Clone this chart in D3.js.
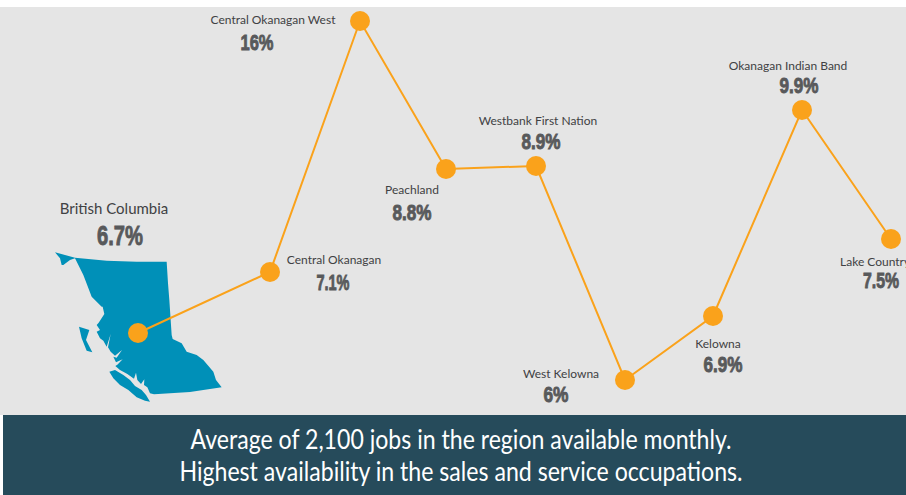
<!DOCTYPE html>
<html>
<head>
<meta charset="utf-8">
<script src="https://cdn.jsdelivr.net/npm/d3@7.9.0/dist/d3.min.js"></script>
<style>
  html, body { margin: 0; padding: 0; background: #fff; overflow: hidden; }
  svg { display: block; }
  .name { font-family: Lato, sans-serif; font-weight: 400; fill: #3f4143; }
  .value { font-family: "Liberation Sans", sans-serif; font-weight: 700; fill: #58595b; stroke: #58595b; stroke-width: 0.9px; }
  .banner { font-family: Lato, sans-serif; font-weight: 400; fill: #fff; }
</style>
</head>
<body>
<div id="chart"></div>
<script>
// --- Data ---
const regions = [
  "British Columbia",
  "Central Okanagan",
  "Central Okanagan West",
  "Peachland",
  "Westbank First Nation",
  "West Kelowna",
  "Kelowna",
  "Okanagan Indian Band",
  "Lake Country",
];
const rates = [6.7, 7.1, 16, 8.8, 8.9, 6, 6.9, 9.9, 7.5];
const rateLabels = ["6.7%", "7.1%", "16%", "8.8%", "8.9%", "6%", "6.9%", "9.9%", "7.5%"];
const bannerLines = [
  "Average of 2,100 jobs in the region available monthly.",
  "Highest availability in the sales and service occupations.",
];

// --- Constants and D3 setup ---
const W = 906;
const H = 495;
const LINE_COLOR = "#faa21b";
const MAP_COLOR = "#0090b8";

// The infographic's vertical axis is not linear in the rate, so it gets one knot per value
const rateKnots = [6, 6.7, 6.9, 7.1, 7.5, 8.8, 8.9, 9.9, 16];
const y = d3.scaleLinear()
  .domain(rateKnots)
  .range([380, 333, 316, 272, 239, 169, 166, 110, 21]);
const x = d3.scaleLinear()
  .domain(d3.range(regions.length))
  .range([138, 270, 360, 446, 536, 625, 713, 802, 891]);

// dx/dy from each point, same order as regions: [name dx, name dy, value dx, value dy, name anchor]
const labelLayout = [
  [-24, -119, -18, -88, "middle"],
  [64, -8, 63, 18, "middle"],
  [-87, 3, -103, 29, "middle"],
  [-34, 25, -34, 51, "middle"],
  [2, -41, 5, -17, "middle"],
  [-64, -2, -69, 22, "middle"],
  [5, 32, 10, 56, "middle"],
  [-14, -40, -3, -17, "middle"],
  [-51, 27, -10, 49, "start"],
];
// condensed width of each percentage, same order
const valueWidths = [46, 33, 33, 39, 39, 25, 39, 39, 36];
const bannerWidths = [541, 563];

// BC outline, in map units
const mapShapes = [
  [[45,187],[75,195],[105,203],[200,212],[290,215],[380,215],[384,280],[388,330],[392,390],[395,435],[398,447],[425,460],[440,485],[470,495],[490,510],[520,545],[528,570],[545,592],[450,606],[342,613],[330,610],
   [322,592],[312,585],[313,568],[303,582],[292,570],[288,548],[282,566],[262,552],[240,540],[226,528],[232,524],[248,508],[228,517],[220,500],[230,503],[246,480],[225,497],[212,485],[204,472],[212,432],[200,470],[190,452],[180,445],[170,425],[180,420],[170,405],[176,398],[193,372],
   [188,350],[185,350],[155,320],[130,255],[105,205],[90,210],[70,225],[65,225],[60,205]],
  [[208,545],[225,540],[250,555],[270,570],[285,588],[305,600],[318,615],[330,635],[315,632],[290,622],[265,600],[240,585],[220,565]],
  [[117,410],[148,420],[138,450],[157,487],[140,482],[125,445]],
];
const mapX = d3.scaleLinear().domain([0, 600]).range([40, 240]);
const mapY = d3.scaleLinear().domain([0, 675]).range([190, 415]);

const svg = d3.select("#chart").append("svg").attr("width", W).attr("height", H);

svg.append("rect")
  .attr("x", 0).attr("y", 7).attr("width", W).attr("height", 408)
  .attr("fill", "#e5e5e5");
svg.append("rect")
  .attr("x", 3).attr("y", 415).attr("width", W - 3).attr("height", 80)
  .attr("fill", "#264b5b");

const mapLine = d3.line().x((d) => mapX(d[0])).y((d) => mapY(d[1]));
svg.append("g")
  .selectAll("path")
  .data(mapShapes)
  .join("path")
  .attr("d", (d) => mapLine(d) + "Z")
  .attr("fill", MAP_COLOR);

const points = regions.map((name, i) => ({ name, rate: rates[i], label: rateLabels[i], i }));

svg.append("path")
  .datum(points)
  .attr("fill", "none")
  .attr("stroke", LINE_COLOR)
  .attr("stroke-width", 2)
  .attr("d", d3.line().x((d) => x(d.i)).y((d) => y(d.rate)));

svg.append("g")
  .selectAll("circle")
  .data(points)
  .join("circle")
  .attr("cx", (d) => x(d.i))
  .attr("cy", (d) => y(d.rate))
  .attr("r", 10)
  .attr("fill", LINE_COLOR);

svg.append("g")
  .selectAll("text")
  .data(points)
  .join("text")
  .attr("class", "name")
  .attr("x", (d) => x(d.i) + labelLayout[d.i][0])
  .attr("y", (d) => y(d.rate) + labelLayout[d.i][1])
  .attr("text-anchor", (d) => labelLayout[d.i][4])
  .attr("font-size", (d) => (d.i === 0 ? 15 : 12))
  .text((d) => d.name);

// Squeeze the bold percentages to get the condensed look of the original
svg.append("g")
  .selectAll("text")
  .data(points)
  .join("text")
  .attr("class", "value")
  .attr("x", (d) => x(d.i) + labelLayout[d.i][2])
  .attr("y", (d) => y(d.rate) + labelLayout[d.i][3])
  .attr("text-anchor", "middle")
  .attr("font-size", (d) => (d.i === 0 ? 28 : 22))
  .attr("lengthAdjust", "spacingAndGlyphs")
  .attr("textLength", (d) => valueWidths[d.i])
  .text((d) => d.label);

svg.append("g")
  .selectAll("text")
  .data(bannerLines)
  .join("text")
  .attr("class", "banner")
  .attr("x", 461)
  .attr("y", (d, i) => 449 + i * 32)
  .attr("text-anchor", "middle")
  .attr("font-size", 26)
  .attr("lengthAdjust", "spacingAndGlyphs")
  .attr("textLength", (d, i) => bannerWidths[i])
  .text((d) => d);
</script>
</body>
</html>
